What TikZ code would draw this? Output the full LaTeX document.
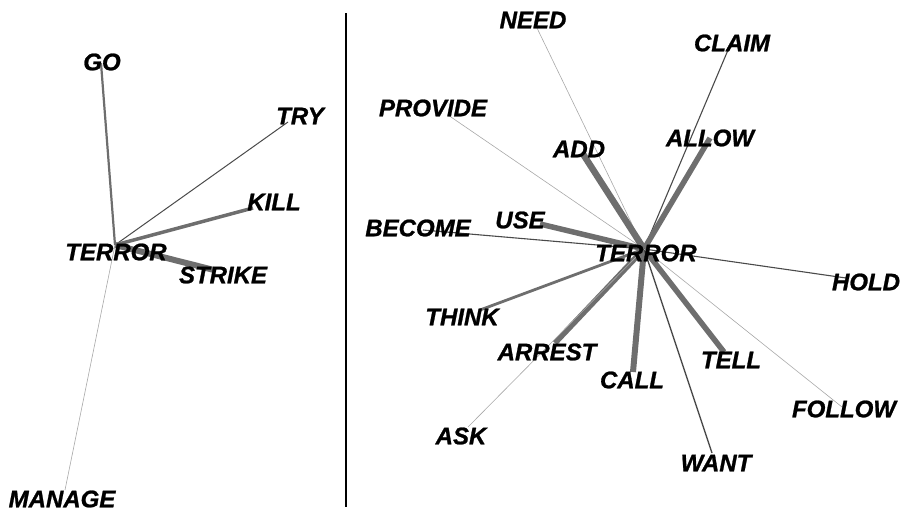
\documentclass[tikz,border=0pt]{standalone}
\usepackage{fontspec}
\setmainfont{Liberation Sans}[BoldItalicFeatures={FakeBold=1}]
\definecolor{linkgray}{HTML}{6E6E6E}
\definecolor{darkgray}{HTML}{4A4A4A}
\definecolor{lightgray}{HTML}{A8A8A8}
\tikzset{
    word/.style={font=\fontsize{24}{24}\selectfont\bfseries\itshape, inner sep=0pt},
    link/.style={draw=linkgray, line width=#1},
    wire/.style={draw=darkgray, line width=1.1pt},
    faint/.style={draw=lightgray, line width=0.6pt}
}
\begin{document}
\begin{tikzpicture}[x=1pt, y=-1pt]

        \useasboundingbox (0,0) rectangle (904,512);

        % left graph
        \coordinate (hubL) at (115,245);
        \coordinate (vgo) at (101,63);
        \coordinate (vtry) at (288,122);
        \coordinate (vkill) at (253,208);
        \coordinate (vstrike) at (214,270);
        \coordinate (vmanage) at (65,490);

        % right graph
        \coordinate (hubR) at (644,249);
        \coordinate (vneed) at (537,28);
        \coordinate (vclaim) at (728,50);
        \coordinate (vprovide) at (448,115);
        \coordinate (vadd) at (583,154);
        \coordinate (vallow) at (710,138);
        \coordinate (vuse) at (540,224);
        \coordinate (vbecome) at (423,230);
        \coordinate (vhold) at (846,278);
        \coordinate (vthink) at (480,310);
        \coordinate (varrest) at (555,343);
        \coordinate (vask) at (468,427);
        \coordinate (vcall) at (633,372);
        \coordinate (vtell) at (724,352);
        \coordinate (vwant) at (712,453);
        \coordinate (vfollow) at (842,407);

        \draw[line width=2pt] (346,13) coordinate (divtop) -- (346,507) coordinate (divbot);

        \draw[link=2.2pt] (hubL) -- (vgo);
        \draw[wire, line width=1pt] (hubL) -- (vtry);
        \draw[link=3.5pt] (hubL) -- (vkill);
        \draw[link=6pt] (hubL) -- (vstrike);
        \draw[faint] (hubL) -- (vmanage);

        \draw[faint] (hubR) -- (vneed);
        \draw[wire] (hubR) -- (vclaim);
        \draw[faint] (hubR) -- (vprovide);
        \draw[link=6.5pt] (hubR) -- (vadd);
        \draw[link=5.5pt] (hubR) -- (vallow);
        \draw[link=5.5pt] (hubR) -- (vuse);
        \draw[wire] (hubR) -- (vbecome);
        \draw[wire] (hubR) -- (vhold);
        \draw[link=2.8pt] (hubR) -- (vthink);
        \draw[link=5.5pt] (hubR) -- (varrest);
        \draw[faint] (hubR) -- (vask);
        \draw[link=6pt] (hubR) -- (vcall);
        \draw[link=5.5pt] (hubR) -- (vtell);
        \draw[wire, line width=1.3pt] (hubR) -- (vwant);
        \draw[faint] (hubR) -- (vfollow);

        \node[word] at (102,62) (go) {GO};
        \node[word] at (300,116) (try) {TRY};
        \node[word] at (274,202) (kill) {KILL};
        \node[word] at (116,252) (terrorL) {TERROR};
        \node[word] at (223,275) (strike) {STRIKE};
        \node[word] at (62,499) (manage) {MANAGE};

        \node[word] at (533,20) (need) {NEED};
        \node[word] at (732,43) (claim) {CLAIM};
        \node[word] at (433,108) (provide) {PROVIDE};
        \node[word] at (579,149) (add) {ADD};
        \node[word] at (710,138) (allow) {ALLOW};
        \node[word] at (520,220) (use) {USE};
        \node[word] at (418,228) (become) {BECOME};
        \node[word] at (646,253) (terrorR) {TERROR};
        \node[word] at (866,282) (hold) {HOLD};
        \node[word] at (462,317) (think) {THINK};
        \node[word] at (547,352) (arrest) {ARREST};
        \node[word] at (632,380) (call) {CALL};
        \node[word] at (731,360) (tell) {TELL};
        \node[word] at (844,409) (follow) {FOLLOW};
        \node[word] at (461,436) (ask) {ASK};
        \node[word] at (716,463) (want) {WANT};

    \end{tikzpicture}
\end{document}
